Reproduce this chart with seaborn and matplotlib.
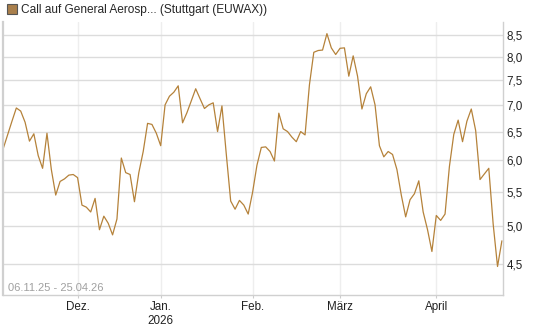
import numpy as np
import pandas as pd
import matplotlib
matplotlib.use('Agg')
import matplotlib.pyplot as plt
from matplotlib.ticker import FixedLocator, FixedFormatter, NullLocator
from matplotlib.lines import Line2D
import seaborn as sns

#-------------------------------------------------------
# data (one value per EUWAX trading day)
start_date = '2025-11-06'
end_date = '2026-04-24'
holidays = ['2025-12-24', '2025-12-25', '2025-12-26', '2025-12-31',
            '2026-01-01', '2026-04-03', '2026-04-06']
prices = [6.20, 6.44, 6.69, 6.94, 6.88, 6.67, 6.33, 6.46, 6.08, 5.87,
          6.47, 5.85, 5.45, 5.66, 5.70, 5.76, 5.77, 5.72, 5.30, 5.27,
          5.20, 5.40, 4.95, 5.14, 5.04, 4.88, 5.10, 6.04, 5.80, 5.77,
          5.35, 5.80, 6.15, 6.65, 6.63, 6.47, 6.25, 7.00, 7.17, 7.25,
          7.38, 6.66, 6.85, 7.08, 7.32, 7.12, 6.93, 7.00, 7.04, 6.50,
          6.98, 6.10, 5.36, 5.24, 5.37, 5.30, 5.17, 5.49, 5.92, 6.22,
          6.23, 6.15, 5.99, 6.84, 6.55, 6.50, 6.40, 6.32, 6.50, 6.44,
          7.40, 8.10, 8.14, 8.15, 8.53, 8.20, 8.05, 8.19, 8.20, 7.58,
          8.02, 7.58, 6.92, 7.22, 7.36, 7.00, 6.25, 6.06, 6.15, 6.10,
          5.85, 5.45, 5.13, 5.38, 5.47, 5.67, 5.20, 4.95, 4.66, 5.15,
          5.08, 5.17, 5.90, 6.45, 6.71, 6.32, 6.69, 6.92, 6.52, 5.69,
          5.78, 5.87, 5.03, 4.47, 4.80]
y_ticks = [4.5, 5.0, 5.5, 6.0, 6.5, 7.0, 7.5, 8.0, 8.5]
month_labels = ['Dez.', 'Jan.\n2026', 'Feb.', 'März', 'April']
series_name = 'Call auf General Aerosp... (Stuttgart (EUWAX))'
range_text = '06.11.25 - 25.04.26'

#-------------------------------------------------------
def main():
    days = pd.bdate_range(start_date, end_date, freq='C', holidays=holidays)
    df = pd.DataFrame({'day': days[:len(prices)], 'price': prices})
    df['idx'] = np.arange(len(df))

    # first trading day of every new month
    month = df['day'].dt.to_period('M')
    first = df.loc[month != month.shift(), 'idx'].tolist()[1:]

    sns.set_style('white')
    plt.rcParams['font.family'] = ['Liberation Sans', 'DejaVu Sans']

    fig = plt.figure(figsize=(5.45, 3.27), dpi=100)
    ax = fig.add_axes([3 / 545, 32 / 327, 500 / 545, 273 / 327])

    line_color = '#B5823A'
    sns.lineplot(data=df, x='idx', y='price', ax=ax, color=line_color,
                 linewidth=0.9)

    ax.set_yscale('log')
    ax.set_ylim(4.13, 8.81)
    ax.set_xlim(-0.05, len(df) - 1 + 0.25)
    ax.yaxis.set_major_locator(FixedLocator(y_ticks))
    ax.yaxis.set_major_formatter(FixedFormatter(
        [f'{v:.1f}'.replace('.', ',') for v in y_ticks]))
    ax.yaxis.set_minor_locator(NullLocator())
    ax.yaxis.tick_right()
    ax.set_xticks(first)
    ax.set_xticklabels(month_labels)
    ax.set_xlabel('')
    ax.set_ylabel('')

    ax.grid(axis='y', color='#dcdcdc', linewidth=1.0)
    ax.grid(axis='x', color='#eeeeee', linewidth=1.0)
    ax.set_axisbelow(True)
    ax.tick_params(axis='y', length=0, pad=2.5, labelsize=8.4, colors='#222222')
    ax.tick_params(axis='x', length=2.5, width=0.8, color='#cccccc', pad=2,
                   labelsize=8.4, labelcolor='#222222', bottom=True)
    ax.spines['top'].set_visible(False)
    for side in ['left', 'right', 'bottom']:
        ax.spines[side].set_color('#d0d0d0')
        ax.spines[side].set_linewidth(1.0)
    ax.spines['left'].set_linewidth(1.6)

    ax.text(0.009, 0.025, range_text, transform=ax.transAxes, fontsize=8.0,
            color='#a0a0a0', va='center', ha='left')

    handle = Line2D([], [], marker='s', linestyle='', markersize=6.5,
                    markerfacecolor='#A97F4C', markeredgecolor='#555555',
                    markeredgewidth=0.8)
    fig.legend([handle], [series_name], loc='upper left',
               bbox_to_anchor=(0.005, 1.0), frameon=False, fontsize=8.6,
               handlelength=0.8, handletextpad=0.35, borderaxespad=0.15,
               borderpad=0.2)

    fig.savefig('out.png', dpi=100)


#-------------------------------------------------------
if __name__ == '__main__':
    main()
